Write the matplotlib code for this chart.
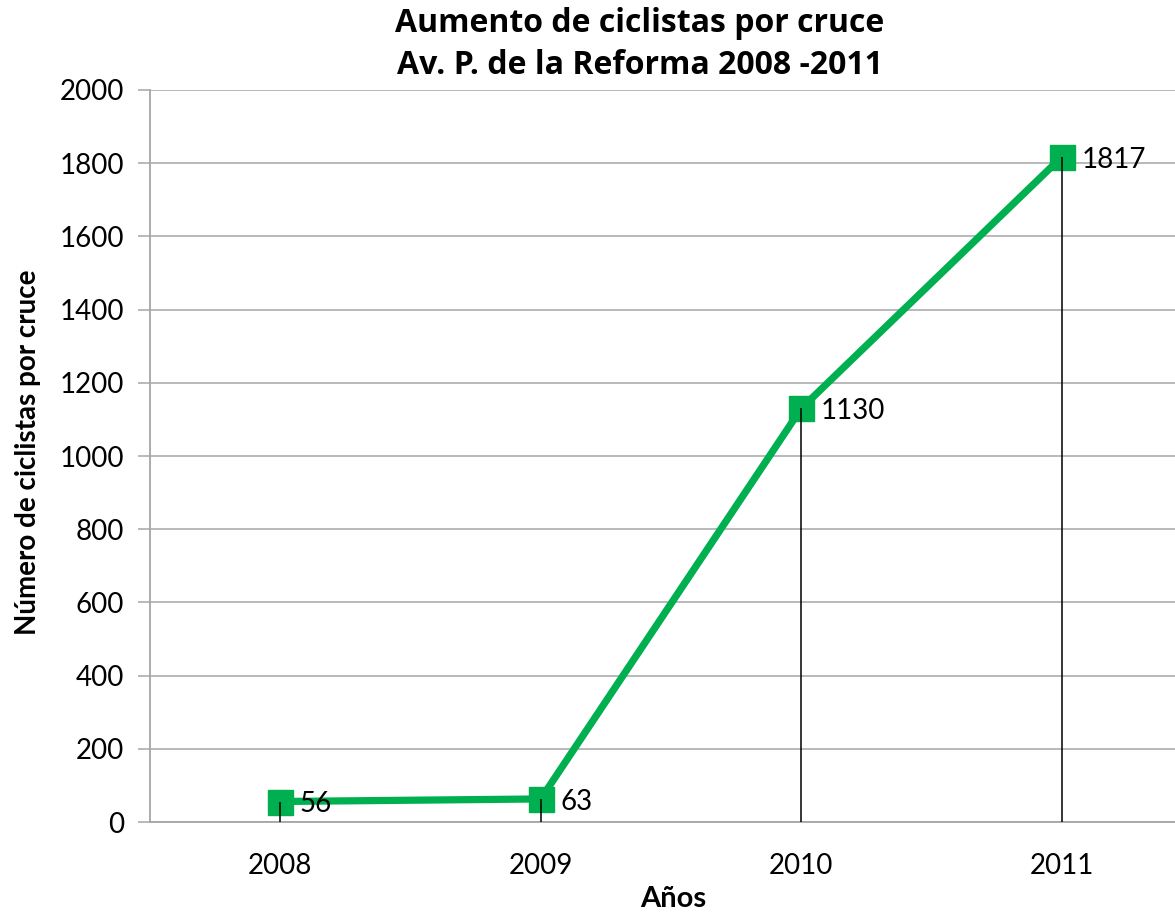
import matplotlib
matplotlib.use("Agg")
import matplotlib.pyplot as plt

years = ["2008", "2009", "2010", "2011"]
ciclistas = [56, 63, 1130, 1817]
yticks = [0, 200, 400, 600, 800, 1000, 1200, 1400, 1600, 1800, 2000]

plt.rcParams['font.family'] = ['Lato', 'DejaVu Sans']

fig = plt.figure(figsize=(11.75, 9.13), dpi=100)
W, H = 1175, 913
ax = fig.add_axes([150 / W, (H - 822) / H, (1192 - 150) / W, (822 - 90) / H])

x = list(range(len(years)))
green = "#00B050"
grid_c = "#A6A6A6"

ax.plot(x, ciclistas, color=green, lw=5.2, marker="s", markersize=18,
        markerfacecolor=green, markeredgecolor=green, zorder=3, solid_joinstyle="miter")
ax.vlines(x, 0, ciclistas, colors="black", lw=1.1, zorder=4)

for xi, v in zip(x, ciclistas):
    ax.annotate(str(v), (xi, v), xytext=(14, -2), textcoords="offset points",
                ha="left", va="center", fontsize=20, color="black", zorder=5)

ax.set_xlim(-0.5, 3.5)
ax.set_ylim(0, 2000)
ax.set_yticks(yticks)
ax.set_yticklabels([str(t) for t in yticks], fontsize=20)
ax.set_xticks(x)
ax.set_xticklabels(years, fontsize=20)
ax.tick_params(axis="x", length=0, pad=22)
ax.tick_params(axis="y", length=8.6, width=1.1, color=grid_c, direction="out", pad=10)

ax.yaxis.grid(True, color=grid_c, lw=1.1)
ax.set_axisbelow(True)
for s in ["top", "right"]:
    ax.spines[s].set_visible(False)
ax.spines["left"].set_color(grid_c)
ax.spines["left"].set_linewidth(1.3)
ax.spines["bottom"].set_color(grid_c)
ax.spines["bottom"].set_linewidth(1.3)

fig.text(640 / W, 1 - 23 / H, "Aumento de ciclistas por cruce", ha="center", va="center",
         fontsize=23, fontweight="bold", family=["Open Sans", "DejaVu Sans"])
fig.text(640 / W, 1 - 65 / H, "Av. P. de la Reforma 2008 -2011", ha="center", va="center",
         fontsize=23, fontweight="bold", family=["Open Sans", "DejaVu Sans"])
fig.text(28 / W, 1 - 452 / H, "Número de ciclistas por cruce", rotation=90, ha="center",
         va="center", fontsize=20, fontweight="bold")
fig.text(673 / W, 1 - 899 / H, "Años", ha="center", va="center", fontsize=21, fontweight="bold")

fig.savefig("out.png", dpi=100)
